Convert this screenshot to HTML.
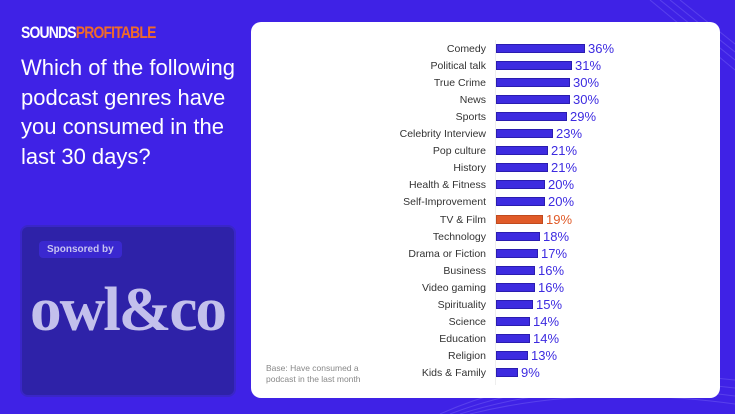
<!DOCTYPE html>
<html><head><meta charset="utf-8"><style>
*{margin:0;padding:0;box-sizing:border-box}
body{width:735px;height:414px;background:#3f22e6;position:relative;overflow:hidden;font-family:"Liberation Sans",sans-serif}
.logo{position:absolute;left:21px;top:23px;font-weight:bold;font-size:17px;letter-spacing:-1px;transform:scaleX(.82);transform-origin:left;color:#fff}
.logo span{color:#f06a2a}
.q{position:absolute;left:21px;top:53px;width:232px;color:#fff;font-size:22px;line-height:29.5px}
.sp{position:absolute;left:20px;top:225px;width:216px;height:172px;background:#2e22a8;border-radius:8px;border:2px solid #3a26c8}
.tag{position:absolute;left:17px;top:14px;background:#3a28d0;color:#c7c3f0;font-size:10px;font-weight:bold;padding:3px 8px;border-radius:4px}
.owl{position:absolute;left:8px;top:48px;font-family:"Liberation Serif",serif;font-weight:bold;font-size:62px;color:#c3c0ec;letter-spacing:-2px;transform:scaleX(1.02);transform-origin:left}
.panel{position:absolute;left:251px;top:22px;width:469px;height:376px;background:#fff;border-radius:10px}
.row{position:absolute;left:0;height:17px;width:469px}
.lab{position:absolute;right:234px;top:3px;font-size:10.5px;color:#333;white-space:nowrap}
.bar{position:absolute;left:245px;top:4px;height:9px;background:#3d2be0;border:1px solid #2a1cb0}
.val{position:absolute;top:1px;font-size:13px;color:#3d2be0}
.base{position:absolute;left:15px;top:341px;font-size:8.5px;color:#888;line-height:11px}
.axis{position:absolute;left:244px;top:18px;width:1px;height:345px;background:#eee}
</style></head><body>
<svg style="position:absolute;left:0;top:0" width="735" height="414">
<g stroke="#6a55f0" stroke-width="1" fill="none" opacity=".6">
<path d="M650 0 L735 70"/><path d="M660 0 L735 60"/><path d="M670 0 L735 52"/><path d="M680 0 L735 44"/>
<path d="M440 414 Q560 360 735 380"/><path d="M450 414 Q570 368 735 388"/><path d="M460 414 Q580 376 735 396"/><path d="M470 414 Q590 384 735 404"/>
</g></svg>
<div class="logo">SOUNDS<span>PROFITABLE</span></div>
<div class="q">Which of the following podcast genres have you consumed in the last 30 days?</div>
<div class="sp"><div class="tag">Sponsored by</div><div class="owl">owl&amp;co</div></div>
<div class="panel">
<div class="axis"></div>
<div id="rows"></div>
<div class="base">Base: Have consumed a<br>podcast in the last month</div>
</div>
<script>
var d=[["Comedy",36],["Political talk",31],["True Crime",30],["News",30],["Sports",29],["Celebrity Interview",23],["Pop culture",21],["History",21],["Health & Fitness",20],["Self-Improvement",20],["TV & Film",19],["Technology",18],["Drama or Fiction",17],["Business",16],["Video gaming",16],["Spirituality",15],["Science",14],["Education",14],["Religion",13],["Kids & Family",9]];
var h="";d.forEach(function(r,i){var w=Math.round(r[1]*2.46),o=r[0]=="TV & Film";
h+='<div class="row" style="top:'+(17.5+i*17.1)+'px"><div class="lab">'+r[0].replace("&","&amp;")+'</div><div class="bar" style="width:'+w+'px;'+(o?'background:#e05a28;border-color:#c04a1e':'')+'"></div><div class="val" style="left:'+(248+w)+'px;'+(o?'color:#e05a28':'')+'">'+r[1]+'%</div></div>';});
document.getElementById("rows").innerHTML=h;
</script>
</body></html>
